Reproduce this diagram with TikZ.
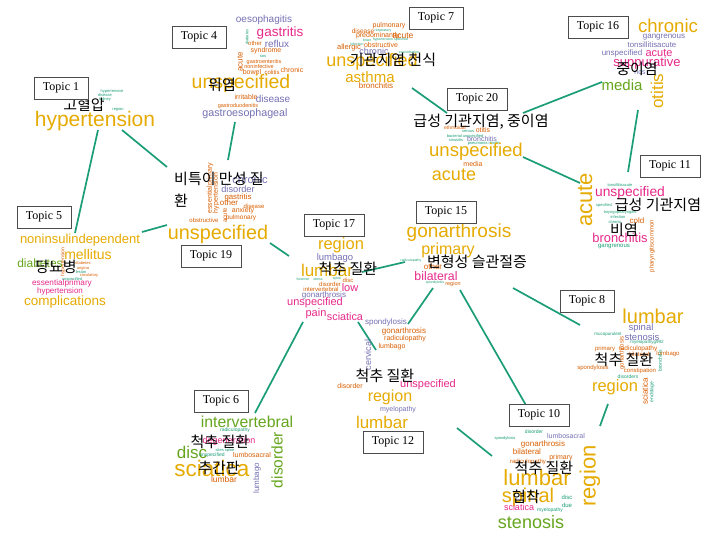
\documentclass[tikz,border=0pt]{standalone}
\usepackage{fontspec}
\setmainfont{Liberation Sans}
\newfontfamily\tpfont{Liberation Serif}
\newfontfamily\krfont{Noto Sans CJK KR}
\definecolor{cT}{HTML}{1B9E77}
\definecolor{cO}{HTML}{D95F02}
\definecolor{cP}{HTML}{7570B3}
\definecolor{cK}{HTML}{E7298A}
\definecolor{cG}{HTML}{66A61E}
\definecolor{cY}{HTML}{E6AB02}
\tikzset{
  tbox/.style={draw=black!70, fill=white, line width=0.7pt, font=\tpfont\fontsize{12}{12}\selectfont, inner xsep=9pt, inner ysep=0pt, minimum height=22pt},
  kr/.style={font=\krfont\fontsize{15}{18}\selectfont, text=black, inner sep=0pt},
  w/.style={font=\fontsize{#1}{#1}\selectfont, inner sep=0pt},
  vert/.style={rotate=90},
  link/.style={draw=cT, line width=1.7pt},
}
\begin{document}
\begin{tikzpicture}[x=1pt,y=-1pt]
\fill[white] (0,0) rectangle (723,539);
\useasboundingbox (0,0) rectangle (723,539);
% connector ends
\coordinate (c1a) at (98,130);  \coordinate (c5a) at (75,233);
\coordinate (c1b) at (122,130); \coordinate (c19a) at (167,167);
\coordinate (c4a) at (235,122); \coordinate (c19b) at (228,160);
\coordinate (c5b) at (142,232); \coordinate (c19c) at (167,225);
\coordinate (c19d) at (270,243); \coordinate (c17a) at (289,256);
\coordinate (c7a) at (412,88);  \coordinate (c20a) at (447,113);
\coordinate (c16a) at (602,82); \coordinate (c20b) at (523,113);
\coordinate (c16b) at (638,110); \coordinate (c11a) at (628,172);
\coordinate (c20c) at (523,157); \coordinate (c11b) at (580,183);
\coordinate (c17b) at (362,272); \coordinate (c15a) at (405,262);
\coordinate (c17c) at (303,322); \coordinate (c6a) at (255,413);
\coordinate (c17d) at (358,322); \coordinate (c12a) at (376,350);
\coordinate (c15b) at (433,288); \coordinate (c12b) at (408,324);
\coordinate (c15c) at (460,290); \coordinate (c10a) at (527,407);
\coordinate (c15d) at (513,288); \coordinate (c8a) at (580,325);
\coordinate (c8b) at (608,404); \coordinate (c10b) at (600,426);
\coordinate (c12c) at (457,428); \coordinate (c10c) at (492,456);
\draw[link] (c1a) -- (c5a);
\draw[link] (c1b) -- (c19a);
\draw[link] (c4a) -- (c19b);
\draw[link] (c5b) -- (c19c);
\draw[link] (c19d) -- (c17a);
\draw[link] (c7a) -- (c20a);
\draw[link] (c16a) -- (c20b);
\draw[link] (c16b) -- (c11a);
\draw[link] (c20c) -- (c11b);
\draw[link] (c17b) -- (c15a);
\draw[link] (c17c) -- (c6a);
\draw[link] (c17d) -- (c12a);
\draw[link] (c15b) -- (c12b);
\draw[link] (c15c) -- (c10a);
\draw[link] (c15d) -- (c8a);
\draw[link] (c8b) -- (c10b);
\draw[link] (c12c) -- (c10c);

% ---------- Topic 1
\node[w=4,text=cT] (w1a) at (112,91) {hypertensive};
\node[w=4,text=cT] (w1b) at (105,95) {disease};
\node[w=4,text=cT] (w1c) at (105,99) {kidney};
\node[w=4,text=cT] (w1d) at (118,109) {region};
\node[w=21,text=cY] (w1e) at (95,121) {hypertension};
\node[kr] (k1) at (84,105) {고혈압};
\node[tbox] (T1) at (61,88) {Topic 1};

% ---------- Topic 4
\node[w=10,text=cP] (w4a) at (264,20) {oesophagitis};
\node[w=13.5,text=cK] (w4b) at (280,33) {gastritis};
\node[w=10,text=cP] (w4c) at (277,44) {reflux};
\node[w=6,text=cO] (w4d) at (255,43) {other};
\node[w=4,text=cT,vert] (w4e) at (247,37) {diabetes};
\node[w=7,text=cO] (w4f) at (266,51) {syndrome};
\node[w=8,text=cO,vert] (w4g) at (240,62) {acute};
\node[w=4,text=cT] (w4h) at (263,56) {sos};
\node[w=5.5,text=cO] (w4i) at (264,62) {gastroenteritis};
\node[w=5.5,text=cO] (w4j) at (259,67) {noninfective};
\node[w=7,text=cO] (w4k) at (252,72) {bowel};
\node[w=6,text=cO] (w4l) at (272,72) {colitis};
\node[w=7,text=cO] (w4m) at (292,70) {chronic};
\node[w=19.5,text=cY] (w4n) at (241,83) {unspecified};
\node[w=7,text=cO] (w4o) at (246,97) {irritable};
\node[w=10,text=cP] (w4p) at (273,99) {disease};
\node[w=5.5,text=cO] (w4q) at (238,106) {gastroduodenitis};
\node[w=10.7,text=cP] (w4r) at (245,114) {gastroesophageal};
\node[kr] (k4) at (222,85) {위염};
\node[tbox] (T4) at (199,37) {Topic 4};

% ---------- Topic 7
\node[w=7,text=cO] (w7a) at (389,26) {pulmonary};
\node[w=6.5,text=cO] (w7b) at (363,31) {disease};
\node[w=3.5,text=cT] (w7c) at (383,31) {respiratory};
\node[w=7,text=cO] (w7d) at (378,36) {predominantly};
\node[w=8.5,text=cO] (w7e) at (403,36) {acute};
\node[w=3.5,text=cT] (w7f) at (367,40) {lower};
\node[w=3.5,text=cT] (w7g) at (383,40) {hypertension};
\node[w=3.5,text=cT] (w7h) at (401,40) {specified};
\node[w=3.5,text=cT] (w7i) at (357,44) {infection};
\node[w=7,text=cO] (w7j) at (381,45) {obstructive};
\node[w=7.5,text=cO] (w7k) at (349,48) {allergic};
\node[w=9,text=cP] (w7l) at (374,51) {chronic};
\node[w=3.5,text=cT] (w7m) at (409,52) {exacerbation};
\node[w=18,text=cY] (w7n) at (372,62) {unspecified};
\node[w=15,text=cY] (w7o) at (370,77) {asthma};
\node[w=8,text=cO] (w7p) at (376,86) {bronchitis};
\node[kr] (k7) at (393,60) {기관지염 천식};
\node[tbox] (T7) at (436,18) {Topic 7};

% ---------- Topic 16
\node[w=18.6,text=cY] (w16a) at (668,26) {chronic};
\node[w=8,text=cP] (w16b) at (664,37) {gangrenous};
\node[w=7.8,text=cP] (w16c) at (652,45) {tonsillitisacute};
\node[w=8,text=cP] (w16d) at (622,53) {unspecified};
\node[w=11,text=cK] (w16e) at (659,53) {acute};
\node[w=13,text=cK] (w16f) at (647,63) {suppurative};
\node[w=7,text=cP] (w16g) at (640,73) {nos};
\node[w=15,text=cG] (w16h) at (622,85) {media};
\node[w=17,text=cY,vert] (w16i) at (657,91) {otitis};
\node[kr] (k16) at (637,69) {중이염};
\node[tbox] (T16) at (598,27) {Topic 16};

% ---------- Topic 20
\node[w=5,text=cO] (w20a) at (455,128) {ethmoidal};
\node[w=7,text=cO] (w20b) at (483,130) {otitis};
\node[w=4,text=cT] (w20c) at (468,131) {serous};
\node[w=4,text=cT] (w20d) at (465,136) {bacterial unspecified};
\node[w=7,text=cP] (w20e) at (482,139) {bronchitis};
\node[w=4,text=cT] (w20f) at (456,140) {sinusitis};
\node[w=4,text=cT] (w20g) at (484,143) {pneumonia rhinitis};
\node[w=18.5,text=cY] (w20h) at (476,152) {unspecified};
\node[w=7,text=cO] (w20i) at (473,164) {media};
\node[w=18,text=cY] (w20j) at (454,175) {acute};
\node[kr] (k20) at (481,122) {급성 기관지염, 중이염};
\node[tbox] (T20) at (477,99) {Topic 20};

% ---------- Topic 11
\node[w=22,text=cY,vert] (w11a) at (585,200) {acute};
\node[w=4,text=cT] (w11b) at (620,185) {tonsillitisacute};
\node[w=13.8,text=cK] (w11c) at (630,193) {unspecified};
\node[w=4,text=cT] (w11d) at (604,205) {specified};
\node[w=4,text=cT] (w11e) at (620,212) {laryngopharyngitis};
\node[w=4,text=cT] (w11f) at (618,217) {infection};
\node[w=4,text=cT] (w11g) at (615,222) {chronic};
\node[w=8,text=cO] (w11h) at (637,221) {cold};
\node[w=12.9,text=cK] (w11i) at (620,238) {bronchitis};
\node[w=6,text=cT] (w11j) at (614,247) {gangrenous};
\node[w=6,text=cO,vert] (w11k) at (652,246) {pharyngitiscommon};
\node[kr] (k11a) at (658,205) {급성 기관지염};
\node[kr] (k11b) at (624,230) {비염};
\node[tbox] (T11) at (670,166) {Topic 11};

% ---------- Topic 5
\node[w=13,text=cY] (w5a) at (80,240) {noninsulindependent};
\node[w=14,text=cY] (w5b) at (88,254) {mellitus};
\node[w=5,text=cO,vert] (w5c) at (63,262) {hypertension};
\node[w=12,text=cG] (w5d) at (40,263) {diabetes};
\node[w=4,text=cO] (w5e) at (83,263) {diabetes};
\node[w=4,text=cO] (w5f) at (83,268) {angina};
\node[w=4,text=cT] (w5g) at (81,272) {lesion};
\node[w=4,text=cO] (w5h) at (89,275) {circulatory};
\node[w=4,text=cT] (w5i) at (72,279) {unspecified};
\node[w=8.2,text=cK] (w5j) at (62,283) {essentialprimary};
\node[w=8,text=cK] (w5k) at (60,291) {hypertension};
\node[w=13.5,text=cY] (w5l) at (65,302) {complications};
\node[kr] (k5) at (56,267) {당뇨병};
\node[tbox] (T5) at (44,217) {Topic 5};

% ---------- Topic 19
\node[w=11,text=cP] (w19a) at (250,180) {chronic};
\node[w=9.2,text=cP] (w19b) at (238,189) {disorder};
\node[w=7.8,text=cO] (w19c) at (238,197) {gastritis};
\node[w=8,text=cO] (w19d) at (229,203) {other};
\node[w=6,text=cO] (w19e) at (254,206) {disease};
\node[w=7,text=cO] (w19f) at (243,211) {anxiety};
\node[w=6.5,text=cO] (w19g) at (241,218) {pulmonary};
\node[w=6,text=cO] (w19h) at (204,220) {obstructive};
\node[w=7,text=cO,vert] (w19i) at (210,188) {essentialprimary};
\node[w=7,text=cO,vert] (w19j) at (216,193) {hypertension};
\node[w=6,text=cO,vert] (w19k) at (225,215) {acute};
\node[w=19.8,text=cY] (w19l) at (218,234) {unspecified};
\node[kr,align=left,anchor=north west,font=\krfont\fontsize{15}{22}\selectfont] (k19) at (174,172) {비특이 만성 질\\환};
\node[tbox] (T19) at (211,256) {Topic 19};

% ---------- Topic 17
\node[w=16.5,text=cY] (w17a) at (341,245) {region};
\node[w=9.5,text=cP] (w17b) at (335,258) {lumbago};
\node[w=17,text=cY] (w17c) at (327,270) {lumbar};
\node[w=3.5,text=cT] (w17d) at (303,279) {foramen};
\node[w=3.5,text=cT] (w17e) at (318,279) {stress};
\node[w=3.5,text=cT] (w17f) at (337,279) {spine};
\node[w=6,text=cO] (w17g) at (348,280) {disc};
\node[w=6,text=cO] (w17h) at (330,284) {disorder};
\node[w=6,text=cO] (w17i) at (321,289) {intervertebral};
\node[w=11,text=cK] (w17j) at (350,288) {low};
\node[w=8,text=cP] (w17k) at (324,295) {gonarthrosis};
\node[w=11,text=cK] (w17l) at (315,303) {unspecified};
\node[w=11,text=cK] (w17m) at (316,314) {pain};
\node[w=10.8,text=cK] (w17n) at (345,317) {sciatica};
\node[kr] (k17) at (348,269) {척추 질환};
\node[tbox] (T17) at (334,225) {Topic 17};

% ---------- Topic 15
\node[w=19,text=cY] (w15a) at (459,233) {gonarthrosis};
\node[w=16,text=cY] (w15b) at (448,250) {primary};
\node[w=8,text=cO] (w15c) at (433,267) {other};
\node[w=3.5,text=cT] (w15d) at (411,261) {radiculopathy};
\node[w=12.3,text=cK] (w15e) at (436,276) {bilateral};
\node[w=3.5,text=cT] (w15f) at (435,283) {spondylosis};
\node[w=5.5,text=cO] (w15g) at (453,284) {region};
\node[kr] (k15) at (477,262) {변형성 슬관절증};
\node[tbox] (T15) at (446,212) {Topic 15};

% ---------- Topic 8
\node[w=20,text=cY] (w8a) at (653,316) {lumbar};
\node[w=9.5,text=cP] (w8b) at (641,328) {spinal};
\node[w=9.5,text=cP] (w8c) at (642,337) {stenosis};
\node[w=4.5,text=cT] (w8d) at (608,334) {mucopurulent};
\node[w=4.5,text=cT] (w8e) at (647,342) {myelopathyg992};
\node[w=6,text=cO] (w8f) at (605,349) {primary};
\node[w=6.5,text=cO] (w8g) at (638,349) {radiculopathy};
\node[w=6,text=cO] (w8h) at (639,354) {bilateral};
\node[w=6,text=cO] (w8i) at (668,354) {lumbago};
\node[w=6,text=cO,vert] (w8j) at (622,353) {gonarthrosis};
\node[w=6,text=cO] (w8k) at (593,368) {spondylosis};
\node[w=6,text=cO] (w8l) at (640,371) {constipation};
\node[w=5,text=cT,vert] (w8m) at (660,361) {bronchitis};
\node[w=5,text=cT] (w8n) at (628,377) {disorders};
\node[w=16.5,text=cY] (w8o) at (615,387) {region};
\node[w=8,text=cO,vert] (w8p) at (645,391) {sciatica};
\node[w=5,text=cT,vert] (w8q) at (652,392) {endstage};
\node[kr] (k8) at (624,360) {척추 질환};
\node[tbox] (T8) at (587,301) {Topic 8};

% ---------- Topic 12
\node[w=8,text=cP] (w12a) at (386,322) {spondylosis};
\node[w=8,text=cO] (w12b) at (404,331) {gonarthrosis};
\node[w=7,text=cO] (w12c) at (405,339) {radiculopathy};
\node[w=7,text=cO] (w12d) at (392,347) {lumbago};
\node[w=9,text=cP,vert] (w12e) at (368,355) {cervical};
\node[w=11,text=cK] (w12f) at (428,385) {unspecified};
\node[w=7,text=cO] (w12g) at (350,386) {disorder};
\node[w=16,text=cY] (w12h) at (390,397) {region};
\node[w=7,text=cP] (w12i) at (398,410) {myelopathy};
\node[w=17,text=cY] (w12j) at (382,422) {lumbar};
\node[kr] (k12) at (385,376) {척추 질환};
\node[tbox] (T12) at (393,442) {Topic 12};

% ---------- Topic 6
\node[w=15.8,text=cG] (w6a) at (247,422) {intervertebral};
\node[w=5,text=cT] (w6b) at (235,430) {radiculopathy};
\node[w=9,text=cK] (w6c) at (229,441) {degeneration};
\node[w=17,text=cG] (w6d) at (192,452) {disc};
\node[w=4,text=cT] (w6e) at (225,450) {sites spine};
\node[w=5,text=cT] (w6f) at (212,455) {unspecified};
\node[w=7,text=cO] (w6g) at (252,455) {lumbosacral};
\node[w=22.5,text=cY] (w6h) at (212,468) {sciatica};
\node[w=8.5,text=cO] (w6i) at (224,479) {lumbar};
\node[w=8,text=cP,vert] (w6j) at (257,478) {lumbago};
\node[w=15.5,text=cG,vert] (w6k) at (277,460) {disorder};
\node[kr] (k6a) at (220,442) {척추 질환};
\node[kr] (k6b) at (219,468) {추간판};
\node[tbox] (T6) at (221,401) {Topic 6};

% ---------- Topic 10
\node[w=5,text=cT] (w10a) at (534,432) {disorder};
\node[w=4,text=cT] (w10b) at (505,438) {spondylosis};
\node[w=7,text=cP] (w10c) at (566,436) {lumbosacral};
\node[w=8,text=cO] (w10d) at (543,444) {gonarthrosis};
\node[w=8,text=cO] (w10e) at (527,452) {bilateral};
\node[w=7,text=cO] (w10f) at (561,458) {primary};
\node[w=6,text=cO] (w10g) at (528,462) {radiculopathy};
\node[w=22,text=cY,vert] (w10h) at (590,476) {region};
\node[w=22,text=cY] (w10i) at (537,478) {lumbar};
\node[w=20,text=cY] (w10j) at (528,497) {spinal};
\node[w=6,text=cT] (w10k) at (567,497) {disc};
\node[w=6,text=cT] (w10l) at (567,505) {due};
\node[w=9,text=cK] (w10m) at (519,507) {sciatica};
\node[w=5,text=cT] (w10n) at (550,510) {myelopathy};
\node[w=18,text=cG] (w10o) at (531,522) {stenosis};
\node[kr] (k10a) at (544,468) {척추 질환};
\node[kr] (k10b) at (526,497) {협착};
\node[tbox] (T10) at (539,415) {Topic 10};
\end{tikzpicture}
\end{document}
